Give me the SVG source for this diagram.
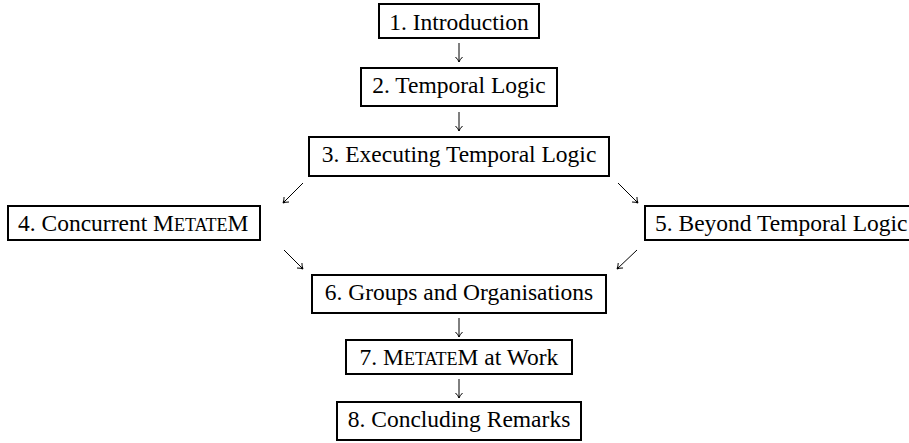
<svg xmlns="http://www.w3.org/2000/svg" width="909" height="443" viewBox="0 0 909 443">
<defs>
<style>
.box{fill:#fff;stroke:#000;stroke-width:2}
.t{font-family:"Liberation Serif","Times New Roman",serif;font-size:23.5px;fill:#000}
.c{text-anchor:middle}
.sc{font-size:18px}
.arr{stroke:#000;stroke-width:1;fill:none;marker-end:url(#ah)}
</style>
<marker id="ah" markerWidth="10" markerHeight="10" refX="0" refY="0" viewBox="-6 -5 8 10" markerUnits="userSpaceOnUse" orient="auto">
<path d="M-5,-3.5 Q-2,-0.5 0,0 Q-2,0.5 -5,3.5" fill="none" stroke="#000" stroke-width="1"/>
</marker>
</defs>
<rect width="909" height="443" fill="#fff"/>
<g id="connectors">
<line class="arr" x1="459" y1="43" x2="459" y2="62"/>
<line class="arr" x1="459" y1="112" x2="459" y2="131"/>
<line class="arr" x1="303" y1="183" x2="283" y2="203"/>
<line class="arr" x1="618" y1="183" x2="638" y2="203"/>
<line class="arr" x1="284" y1="250" x2="303" y2="269"/>
<line class="arr" x1="637" y1="250" x2="617" y2="269"/>
<line class="arr" x1="459" y1="318" x2="459" y2="337"/>
<line class="arr" x1="459" y1="379" x2="459" y2="398"/>
</g>
<g id="n1">
<rect class="box" x="379" y="4" width="160" height="34"/>
<text class="t c" x="459" y="29.5">1. Introduction</text>
</g>
<g id="n2">
<rect class="box" x="361" y="68" width="196" height="38"/>
<text class="t c" x="459" y="93">2. Temporal Logic</text>
</g>
<g id="n3">
<rect class="box" x="309" y="137" width="300" height="39"/>
<text class="t c" x="459" y="162">3. Executing Temporal Logic</text>
</g>
<g id="n4">
<rect class="box" x="8" y="206" width="252" height="34"/>
<text class="t" x="18" y="231">4. Concurrent M<tspan class="sc">ETATE</tspan>M</text>
</g>
<g id="n5">
<rect class="box" x="645" y="206" width="290" height="34"/>
<text class="t" x="655" y="231">5. Beyond Temporal Logic</text>
</g>
<g id="n6">
<rect class="box" x="312" y="275" width="294" height="38"/>
<text class="t c" x="459" y="300">6. Groups and Organisations</text>
</g>
<g id="n7">
<rect class="box" x="346" y="340" width="226" height="34"/>
<text class="t c" x="459" y="365">7. M<tspan class="sc">ETATE</tspan>M at Work</text>
</g>
<g id="n8">
<rect class="box" x="337" y="402" width="244" height="38"/>
<text class="t c" x="459" y="427">8. Concluding Remarks</text>
</g>
</svg>
